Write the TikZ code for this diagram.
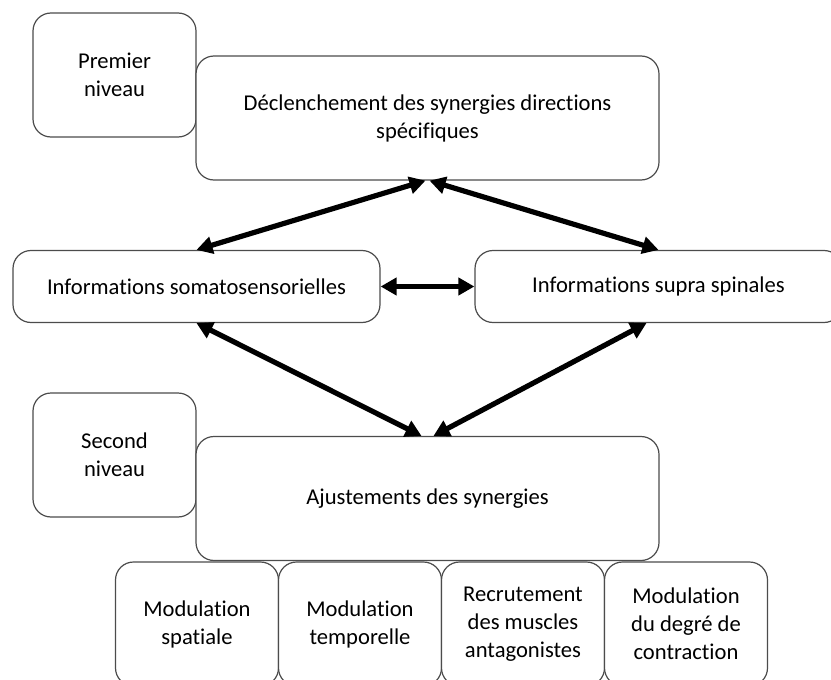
\documentclass[tikz,border=0pt]{standalone}
\usepackage{fontspec}
\setmainfont{Carlito}[RawFeature={-liga;-calt;-clig}]
\usetikzlibrary{positioning,arrows.meta}
\tikzset{
  >={Triangle[length=8pt,width=8.5pt]},
  box/.style={
    draw=black!70,
    line width=0.6pt,
    rounded corners=9pt,
    align=center,
    inner sep=3pt,
    fill=white
  },
  levelbox/.style={box, minimum width=81.5pt, minimum height=62pt},
  mainbox/.style={box, minimum width=231.5pt, minimum height=62pt},
  infobox/.style={box, minimum width=183.5pt, minimum height=36pt},
  link/.style={<->, line width=2.6pt}
}

\begin{document}
\begin{tikzpicture}[
    x=0.5pt, y=-0.5pt,
    node distance=-0.6pt,
    every node/.style={font=\fontsize{11.3}{14}\selectfont}
  ]
  \useasboundingbox (0,0) rectangle (831,680);

  % first level
  \node[levelbox] (premier) at (114.5,75) {Premier\\niveau};
  \node[mainbox] (decl) at (427.5,118) {D\'eclenchement des synergies directions\\sp\'ecifiques};

  % information sources
  \node[infobox] (somato) at (196.5,286.5) {Informations somatosensorielles};
  \node[infobox] (supra) at (658.5,286.5) {Informations supra spinales};

  % second level
  \node[levelbox] (second) at (114.5,455) {Second\\niveau};
  \node[mainbox] (ajust) at (427.5,498.5) {Ajustements des synergies};

  \node[levelbox] (spat) at (197,624) {Modulation\\spatiale};
  \node[levelbox, right=of spat] (temp) {Modulation\\temporelle};
  \node[levelbox, right=of temp] (recr) {Recrutement\\des muscles\\antagonistes};
  \node[levelbox, right=of recr] (degre) {Modulation\\du degr\'e de\\contraction};

  \draw[link] ([xshift=-1pt]decl.south) -- (somato.north);
  \draw[link] ([xshift=1pt]decl.south) -- (supra.north);
  \draw[link] (somato.east) -- (supra.west);
  \draw[link] (somato.south) -- ([xshift=-3pt]ajust.north);
  \draw[link] ([xshift=-6pt]supra.south) -- ([xshift=3pt]ajust.north);
\end{tikzpicture}
\end{document}
